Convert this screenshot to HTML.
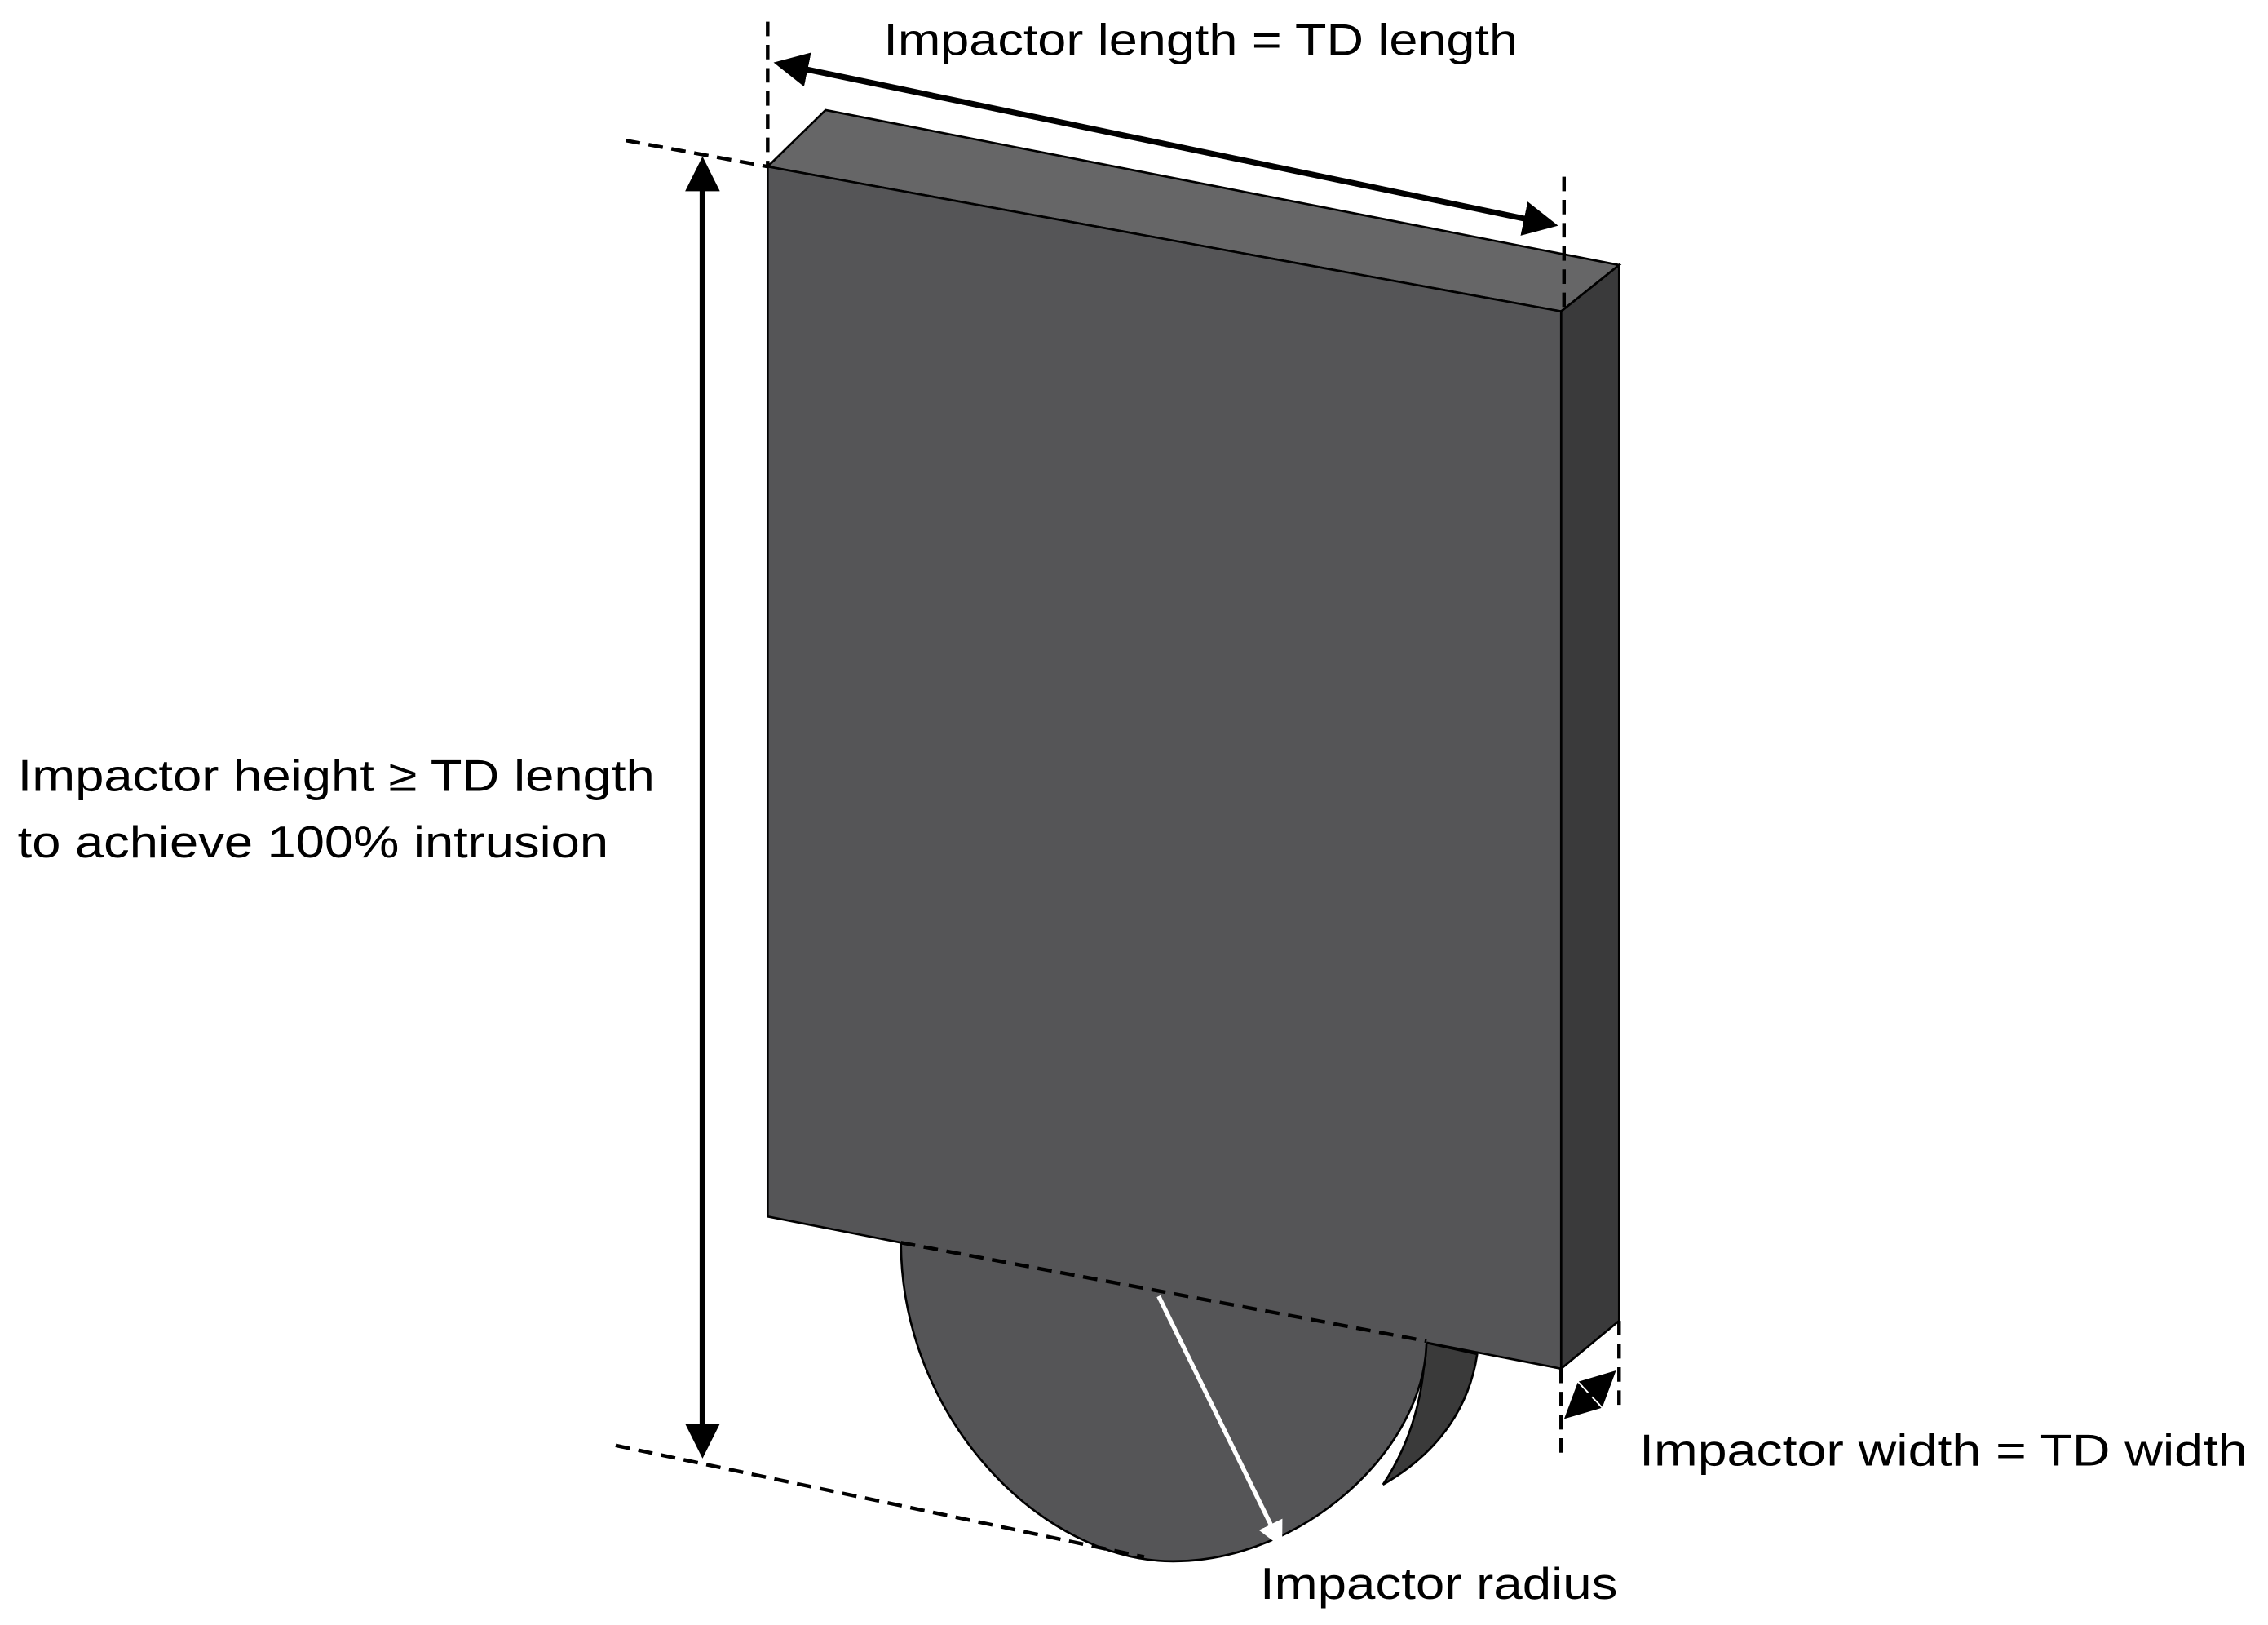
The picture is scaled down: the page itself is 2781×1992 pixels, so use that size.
<!DOCTYPE html>
<html><head><meta charset="utf-8"><style>
html,body{margin:0;padding:0;background:#fff;}
svg{display:block;}
text{font-family:"Liberation Sans",sans-serif;font-size:31px;fill:#000;}
</style></head><body>
<svg width="2781" height="1992" viewBox="0 0 1566 1122" xmlns="http://www.w3.org/2000/svg">
<defs>
<marker id="ah" markerWidth="6" markerHeight="6" refX="5" refY="3" orient="auto-start-reverse" markerUnits="strokeWidth"><path d="M0,0 L6,3 L0,6 Z" fill="#000"/></marker>
<marker id="aw" markerWidth="6" markerHeight="6" refX="5" refY="3" orient="auto" markerUnits="strokeWidth"><path d="M0,0 L6,3 L0,6 Z" fill="#fff"/></marker>
</defs>
<!-- disc back sliver -->
<path d="M980,926 L1020,935 C1014,975 990,1005 955,1025 C975,995 984,960 984,926 Z" fill="#3a3a3a" stroke="#000" stroke-width="1.5"/>
<!-- disc front -->
<path d="M622,857 L985,925 C985,1000 900,1078 810,1078 C720,1078 622,980 622,857 Z" fill="#555557" stroke="#000" stroke-width="1.5"/>
<!-- top -->
<polygon points="530,115 570,76 1118,183 1078,215" fill="#666667" stroke="#000" stroke-width="1.5"/>
<!-- side -->
<polygon points="1078,215 1118,183 1118,912 1078,945" fill="#3a3a3b" stroke="#000" stroke-width="1.5"/>
<!-- front -->
<polygon points="530,115 1078,215 1078,945 985,927 622,858 530,840" fill="#555557" stroke="#000" stroke-width="1.5"/>
<line x1="622" y1="858" x2="985" y2="927" stroke="#555557" stroke-width="2"/>
<!-- dashed guides -->
<g stroke="#000" stroke-width="2.5" stroke-dasharray="10,6" fill="none">
<line x1="530" y1="15" x2="530" y2="115"/>
<line x1="1080" y1="122" x2="1080" y2="215"/>
<line x1="432" y1="97" x2="530" y2="115"/>
<line x1="425" y1="998" x2="790" y2="1075"/>
<line x1="622" y1="858" x2="985" y2="926"/>
<line x1="1078" y1="945" x2="1078" y2="1003"/>
<line x1="1118" y1="912" x2="1118" y2="975"/>
</g>
<!-- arrows -->
<g stroke="#000" stroke-width="4" fill="none">
<line x1="538" y1="44" x2="1072" y2="155" marker-start="url(#ah)" marker-end="url(#ah)"/>
<line x1="485" y1="112" x2="485" y2="1003" marker-start="url(#ah)" marker-end="url(#ah)"/>
<line x1="1083" y1="977" x2="1113" y2="949" marker-start="url(#ah)" marker-end="url(#ah)"/>
</g>
<line x1="800" y1="895" x2="884" y2="1066" stroke="#fff" stroke-width="3" marker-end="url(#aw)"/>
<!-- labels -->
<text x="610" y="38" textLength="438" lengthAdjust="spacingAndGlyphs">Impactor length = TD length</text>
<text x="12" y="546" textLength="440" lengthAdjust="spacingAndGlyphs">Impactor height ≥ TD length</text>
<text x="12" y="592" textLength="408" lengthAdjust="spacingAndGlyphs">to achieve 100% intrusion</text>
<text x="1132" y="1012" textLength="420" lengthAdjust="spacingAndGlyphs">Impactor width = TD width</text>
<text x="870" y="1104" textLength="247" lengthAdjust="spacingAndGlyphs">Impactor radius</text>
</svg>
</body></html>
